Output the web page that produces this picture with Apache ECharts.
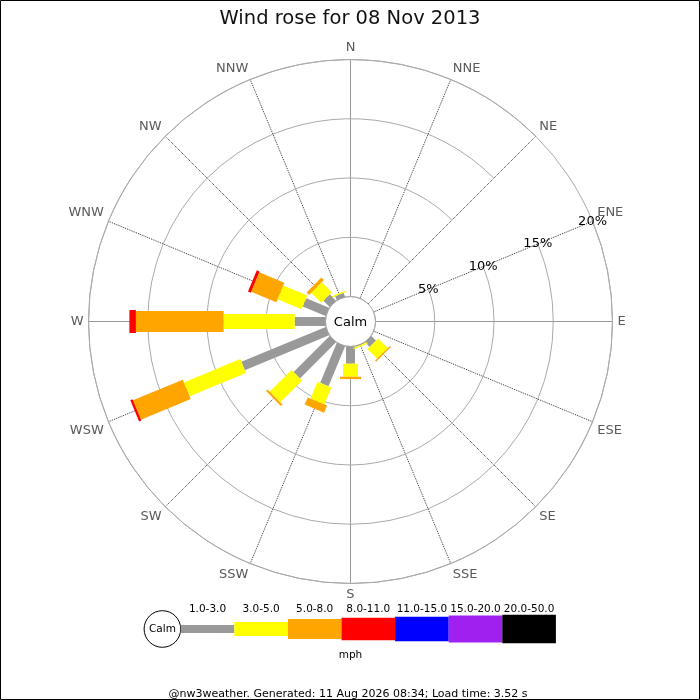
<!DOCTYPE html>
<html>
<head>
<meta charset="utf-8">
<script src="https://cdn.jsdelivr.net/npm/echarts@6/dist/echarts.min.js"></script>
<style>
html,body{margin:0;padding:0;background:#fff;}
#chart{width:700px;height:700px;}
</style>
</head>
<body>
<div id="chart"></div>
<script>
// ---------- data ----------
const titleText = 'Wind rose for 08 Nov 2013';
const directions = ['N','NNE','NE','ENE','E','ESE','SE','SSE','S','SSW','SW','WSW','W','WNW','NW','NNW'];
const speedBands = ['1.0-3.0','3.0-5.0','5.0-8.0','8.0-11.0','11.0-15.0','15.0-20.0','20.0-50.0'];
const radiusTicks = [5, 10, 15, 20];
// percentage of time per direction for each speed band (mph), order = directions
const band_1_3   = [0,0,0,0,0,0,0.55,0.05,1.45,3.65,4.3,7.7,2.6,2.1,0.75,0.35];
const band_3_5   = [0,0,0,0,0,0,1.15,0.12,1.1,1.55,2.6,5.15,6.0,2.2,1.2,0.12];
const band_5_8   = [0,0,0,0,0,0,0.12,0,0.2,0.65,0.18,4.55,7.4,2.3,0.3,0];
const band_8_11  = [0,0,0,0,0,0,0,0,0,0,0,0.2,0.55,0.25,0,0];
const band_11_15 = [0,0,0,0,0,0,0,0,0,0,0,0,0,0,0,0];
const band_15_20 = [0,0,0,0,0,0,0,0,0,0,0,0,0,0,0,0];
const band_20_50 = [0,0,0,0,0,0,0,0,0,0,0,0,0,0,0,0];
const bandValues = [band_1_3, band_3_5, band_5_8, band_8_11, band_11_15, band_15_20, band_20_50];
const unitLabel = 'mph';
const calmLabel = 'Calm';
const footerText = '@nw3weather. Generated: 11 Aug 2026 08:34; Load time: 3.52 s';

// ---------- style ----------
const FONT = 'DejaVu Sans';
const bandColors = ['#999999','#ffff00','#ffa500','#ff0000','#0000ff','#a020f0','#000000'];
const bandWidths = [9, 15, 21, 23, 25, 27, 29];          // bar thickness in plot (px)
const legendHeights = [8, 14, 20, 22.7, 24.7, 27, 28.3];  // bar thickness in legend (px)
const layout = {
  center: [350.5, 321.5], innerR: 25, outerR: 262,
  legendX0: 180.7, legendY: 629, legendW: 53.6, legendLabelY: 609, legendCalmR: 18.3,
  unitY: 655, footerY: 694.5
};

// angle axis starts at ENE so the radius axis (labels) lies along ENE
const startIdx = directions.indexOf('ENE');
const axisDirs = directions.slice(startIdx).concat(directions.slice(0, startIdx));

function barRenderer(width, color) {
  return function (params, api) {
    const cs = params.coordSys;
    const a = api.coord([api.value(0), api.value(1)]);
    const b = api.coord([api.value(2), api.value(1)]);
    const dx = b[0] - cs.cx, dy = b[1] - cs.cy;
    const L = Math.sqrt(dx * dx + dy * dy) || 1;
    const nx = -dy / L * width / 2, ny = dx / L * width / 2;
    return {
      type: 'polygon',
      shape: { points: [[a[0] + nx, a[1] + ny], [b[0] + nx, b[1] + ny], [b[0] - nx, b[1] - ny], [a[0] - nx, a[1] - ny]] },
      style: { fill: color }
    };
  };
}

const cumulative = directions.map(() => 0);
const series = [];
bandValues.forEach((vals, bi) => {
  const data = [];
  vals.forEach((v, di) => {
    const s = cumulative[di];
    const e = s + v;
    cumulative[di] = e;
    if (v > 0) data.push([s, axisDirs.indexOf(directions[di]), e]);
  });
  series.push({
    type: 'custom',
    name: speedBands[bi],
    coordinateSystem: 'polar',
    encode: { radius: 0, angle: 1 },
    silent: true,
    z: 10 + bi,
    renderItem: barRenderer(bandWidths[bi], bandColors[bi]),
    data: data
  });
});
// calm label at the centre of the polar system
series.push({
  type: 'custom',
  coordinateSystem: 'polar',
  encode: { radius: 0, angle: 1 },
  silent: true,
  z: 30,
  renderItem: function (params) {
    const cs = params.coordSys;
    return { type: 'text', x: cs.cx, y: cs.cy + 1,
      style: { text: calmLabel, fill: '#000', font: '13px "' + FONT + '"', align: 'center', verticalAlign: 'middle' } };
  },
  data: [[0, 0]]
});

// legend graphics
const graphics = [
  { type: 'rect', shape: { x: 0.5, y: 0.5, width: 699, height: 699 }, style: { fill: null, stroke: '#000', lineWidth: 1 }, z: 100 },
  { type: 'circle', shape: { cx: layout.legendX0 - layout.legendCalmR, cy: layout.legendY, r: layout.legendCalmR },
    style: { fill: '#fff', stroke: '#000', lineWidth: 1 } },
  { type: 'text', x: layout.legendX0 - layout.legendCalmR, y: layout.legendY,
    style: { text: calmLabel, fill: '#000', font: '10.5px "' + FONT + '"', align: 'center', verticalAlign: 'middle' } },
  { type: 'text', x: 350.5, y: layout.unitY,
    style: { text: unitLabel, fill: '#000', font: '10.5px "' + FONT + '"', align: 'center', verticalAlign: 'middle' } },
  { type: 'text', x: 348, y: layout.footerY,
    style: { text: footerText, fill: '#000', font: '11px "' + FONT + '"', align: 'center', verticalAlign: 'middle' } }
];
speedBands.forEach((label, i) => {
  const x = layout.legendX0 + i * layout.legendW;
  const h = legendHeights[i];
  graphics.push({ type: 'rect', shape: { x: x, y: layout.legendY - h / 2, width: layout.legendW, height: h },
    style: { fill: bandColors[i] } });
  graphics.push({ type: 'text', x: x + layout.legendW / 2, y: layout.legendLabelY,
    style: { text: label, fill: '#000', font: '10.5px "' + FONT + '"', align: 'center', verticalAlign: 'middle' } });
});

const chart = echarts.init(document.getElementById('chart'), null, { renderer: 'canvas' });
chart.setOption({
  backgroundColor: '#fff',
  animation: false,
  title: {
    text: titleText, left: 'center', top: 4,
    textStyle: { fontFamily: FONT, fontSize: 19.5, fontWeight: 'normal', color: '#111' }
  },
  polar: { center: layout.center, radius: [layout.innerR, layout.outerR] },
  angleAxis: {
    type: 'category', data: axisDirs, startAngle: 22.5, clockwise: true, boundaryGap: false,
    axisLine: { show: true, lineStyle: { color: '#aaaaaa', width: 1 } },
    axisTick: { show: false },
    axisLabel: { interval: 0, margin: 5, color: '#5a5a5a', fontSize: 13, fontFamily: FONT },
    splitLine: { show: true, interval: 0, lineStyle: { color: '#333', type: 'dotted', width: 1 } },
    z: 2
  },
  radiusAxis: {
    type: 'value', min: 0, max: radiusTicks[radiusTicks.length - 1], interval: radiusTicks[0],
    axisLine: { show: false }, axisTick: { show: false },
    axisLabel: {
      showMinLabel: false, margin: 0, align: 'center', verticalAlign: 'middle',
      color: '#000', fontSize: 13, fontFamily: FONT,
      formatter: v => (radiusTicks.indexOf(v) >= 0 ? v + '%' : '')
    },
    splitLine: { show: true, lineStyle: { color: '#aaaaaa', width: 1 } },
    z: 3
  },
  graphic: { elements: graphics },
  series: series
});
</script>
</body>
</html>
